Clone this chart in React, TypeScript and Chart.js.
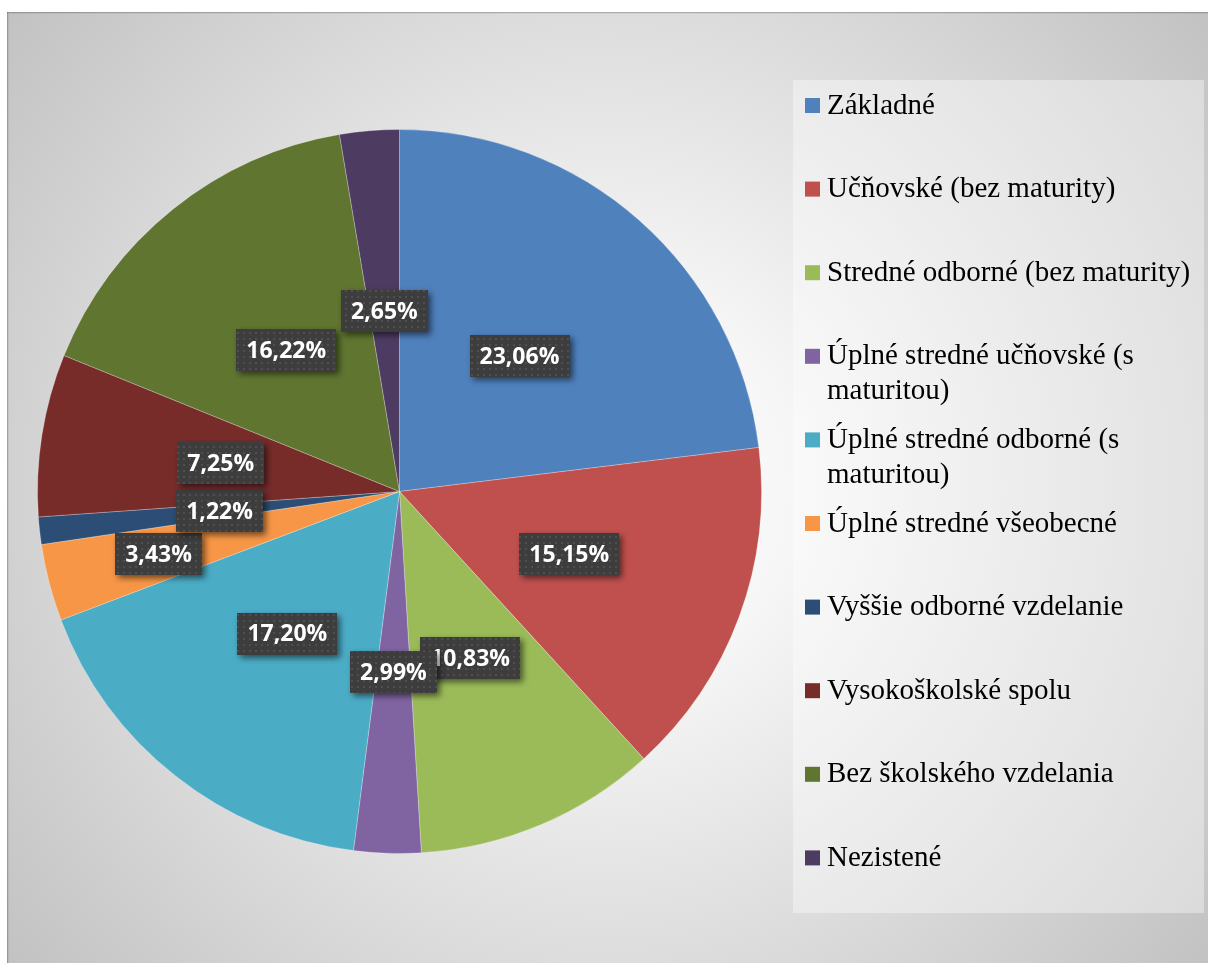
import React, { useEffect, useRef } from "react";
import { Chart, registerables } from "chart.js";

Chart.register(...registerables);

const categories = [
  "Základné",
  "Učňovské (bez maturity)",
  "Stredné odborné (bez maturity)",
  "Úplné stredné učňovské (s maturitou)",
  "Úplné stredné odborné (s maturitou)",
  "Úplné stredné všeobecné",
  "Vyššie odborné vzdelanie",
  "Vysokoškolské spolu",
  "Bez školského vzdelania",
  "Nezistené",
];
const shares = [23.06, 15.15, 10.83, 2.99, 17.2, 3.43, 1.22, 7.25, 16.22, 2.65];
const colors = [
  "#4F81BD",
  "#C0504D",
  "#9BBB59",
  "#8064A2",
  "#4BACC6",
  "#F79646",
  "#2C4D75",
  "#772C2A",
  "#5F7530",
  "#4D3B62",
];

const W = 1201;
const H = 951;

const fmt = (v: number) => v.toFixed(2).replace(".", ",") + "%";

function makePattern(ctx: CanvasRenderingContext2D) {
  const c = document.createElement("canvas");
  c.width = 6;
  c.height = 6;
  const p = c.getContext("2d")!;
  p.fillStyle = "#3d3d3d";
  p.fillRect(0, 0, 6, 6);
  p.fillStyle = "#4f4f4f";
  p.fillRect(2, 2, 2, 2);
  return ctx.createPattern(c, "repeat")!;
}

const backgroundPlugin = {
  id: "bgFrame",
  beforeDraw(chart: any) {
    const ctx: CanvasRenderingContext2D = chart.ctx;
    const w = chart.width;
    const h = chart.height;
    ctx.save();
    const g = ctx.createRadialGradient(w / 2, h / 2, 0, w / 2, h / 2, Math.hypot(w / 2, h / 2));
    g.addColorStop(0, "#ffffff");
    g.addColorStop(0.25, "#f6f6f6");
    g.addColorStop(1, "#c2c2c2");
    ctx.fillStyle = g;
    ctx.fillRect(0, 0, w, h);
    ctx.fillStyle = "rgba(0,0,0,0.22)";
    ctx.fillRect(0, 0, w, 1);
    ctx.fillRect(0, 0, 1, h);
    ctx.fillStyle = "rgba(0,0,0,0.06)";
    ctx.fillRect(1, 1, w, 1);
    ctx.fillRect(1, 1, 1, h);
    ctx.restore();
  },
};

function wrapText(ctx: CanvasRenderingContext2D, text: string, maxW: number) {
  const words = text.split(" ");
  const lines: string[] = [];
  let cur = "";
  for (const w of words) {
    const t = cur ? cur + " " + w : w;
    if (ctx.measureText(t).width > maxW && cur) {
      lines.push(cur);
      cur = w;
    } else cur = t;
  }
  if (cur) lines.push(cur);
  return lines;
}

const legendPlugin = {
  id: "sideLegend",
  afterDraw(chart: any) {
    const ctx: CanvasRenderingContext2D = chart.ctx;
    ctx.save();
    ctx.fillStyle = "rgba(255,255,255,0.38)";
    ctx.fillRect(786, 68, 411, 833);
    ctx.font = '29px "Liberation Serif", "Times New Roman", serif';
    ctx.textBaseline = "middle";
    ctx.textAlign = "left";
    const firstY = 93;
    const step = 83.6;
    const lineH = 35;
    categories.forEach((cat, i) => {
      const y = firstY + step * i;
      ctx.fillStyle = colors[i];
      ctx.fillRect(798, y - 7, 15, 15);
      ctx.fillStyle = "#000000";
      const lines = wrapText(ctx, cat, 372);
      lines.forEach((ln, j) => ctx.fillText(ln, 820, y + 1 + j * lineH));
    });
    ctx.restore();
  },
};

const labelPlugin = {
  id: "boxLabels",
  afterDatasetsDraw(chart: any) {
    const ctx: CanvasRenderingContext2D = chart.ctx;
    const meta = chart.getDatasetMeta(0);
    ctx.save();
    ctx.font = 'bold 23px "Open Sans", sans-serif';
    const h = 42;
    const gap = 1;
    const boxes = meta.data.map((arc: any, i: number) => {
      const p = arc.getProps(["x", "y", "startAngle", "endAngle", "outerRadius"], true);
      const mid = (p.startAngle + p.endAngle) / 2;
      const text = fmt(shares[i]);
      const w = ctx.measureText(text).width + 20;
      return { i, text, w, h, mid, ox: p.x, oy: p.y, R: p.outerRadius, d: p.outerRadius * 0.5, cx: 0, cy: 0 };
    });
    const setPos = (b: any) => {
      b.cx = b.ox + Math.cos(b.mid) * b.d;
      b.cy = b.oy + Math.sin(b.mid) * b.d;
    };
    const overlap = (a: any, b: any, m: number) => {
      const ox = Math.min(a.cx + a.w / 2, b.cx + b.w / 2) - Math.max(a.cx - a.w / 2, b.cx - b.w / 2) + m;
      const oy = Math.min(a.cy + a.h / 2, b.cy + b.h / 2) - Math.max(a.cy - a.h / 2, b.cy - b.h / 2) + m;
      return ox > 0 && oy > 0 ? ox * oy : 0;
    };
    const placed: any[] = [];
    for (let k = boxes.length - 1; k >= 0; k--) {
      const b = boxes[k];
      setPos(b);
      const area = b.w * b.h;
      const worst = (m: number) => Math.max(0, ...placed.map((q) => overlap(b, q, m)));
      if (worst(0) > 0.2 * area) {
        while (worst(gap) > 0 && b.d < b.R) {
          b.d += 1;
          setPos(b);
        }
      }
      placed.push(b);
    }
    const pattern = makePattern(ctx);
    boxes.forEach((b: any) => {
      const x = Math.round(b.cx - b.w / 2);
      const y = Math.round(b.cy - b.h / 2);
      ctx.save();
      ctx.shadowColor = "rgba(0,0,0,0.55)";
      ctx.shadowBlur = 6;
      ctx.shadowOffsetX = 3;
      ctx.shadowOffsetY = 3;
      ctx.fillStyle = pattern;
      ctx.fillRect(x, y, Math.round(b.w), b.h);
      ctx.restore();
      ctx.fillStyle = "#ffffff";
      ctx.textAlign = "center";
      ctx.textBaseline = "middle";
      ctx.fillText(b.text, b.cx, b.cy + 1);
    });
    ctx.restore();
  },
};

export default function App() {
  const ref = useRef<HTMLCanvasElement | null>(null);
  useEffect(() => {
    document.body.style.margin = "0";
    if (!ref.current) return;
    const chart = new Chart(ref.current, {
      type: "pie",
      data: {
        labels: categories,
        datasets: [
          {
            data: shares,
            backgroundColor: colors,
            borderColor: "rgba(255,255,255,0.35)",
            borderWidth: 0.75,
            hoverOffset: 0,
          },
        ],
      },
      options: {
        responsive: false,
        animation: false,
        events: [],
        radius: 362,
        layout: { padding: { left: 30, right: 446, top: 117, bottom: 109 } },
        plugins: {
          legend: { display: false },
          tooltip: { enabled: false },
        },
      } as any,
      plugins: [backgroundPlugin, labelPlugin, legendPlugin],
    });
    return () => chart.destroy();
  }, []);
  return (
    <div style={{ padding: "12px 0 0 7px", width: W, height: H, overflow: "hidden" }}>
      <canvas ref={ref} width={W} height={H} style={{ display: "block", width: W, height: H }} />
    </div>
  );
}
